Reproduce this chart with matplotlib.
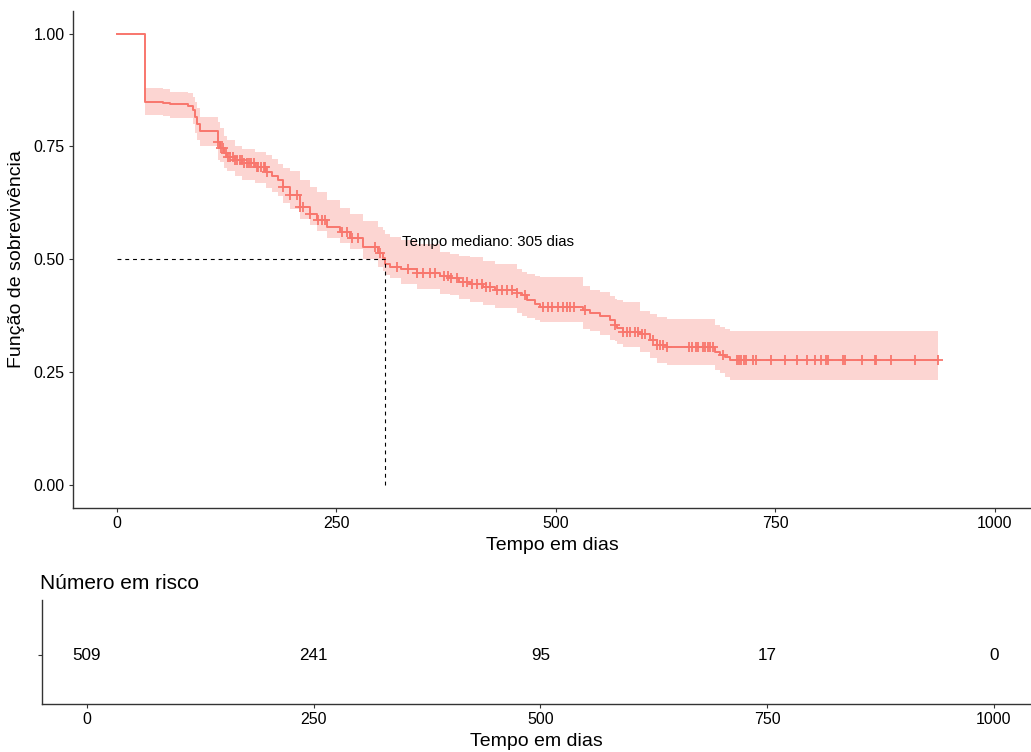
import numpy as np
import matplotlib.pyplot as plt

plt.rcParams['font.family'] = ['Liberation Sans', 'DejaVu Sans']

# Curva de Kaplan-Meier (tempo em dias)
tempo = [0, 32, 52, 61, 81, 87, 89, 91, 95, 115, 117, 122, 125, 134, 143, 157, 170, 177,
         183, 189, 197, 209, 220, 228, 239, 254, 265, 280, 297, 303, 305, 311, 323, 342,
         368, 379, 390, 402, 417, 431, 456, 461, 467, 476, 482, 531, 539, 550, 562, 567,
         570, 576, 596, 607, 615, 627, 681, 687, 693, 698]
sobrev = [1.0, 0.849, 0.847, 0.843, 0.840, 0.830, 0.815, 0.800, 0.785, 0.760, 0.747, 0.735,
          0.727, 0.720, 0.714, 0.705, 0.694, 0.685, 0.676, 0.660, 0.643, 0.616, 0.600, 0.588,
          0.572, 0.561, 0.548, 0.528, 0.514, 0.503, 0.490, 0.483, 0.479, 0.470, 0.462, 0.459,
          0.450, 0.445, 0.439, 0.432, 0.426, 0.420, 0.410, 0.400, 0.395, 0.388, 0.381, 0.375,
          0.366, 0.355, 0.348, 0.339, 0.334, 0.322, 0.310, 0.306, 0.295, 0.288, 0.283, 0.277]
ic_sup = [1.0, 0.880, 0.878, 0.871, 0.869, 0.860, 0.848, 0.835, 0.816, 0.803, 0.790, 0.772,
          0.765, 0.750, 0.745, 0.738, 0.730, 0.722, 0.710, 0.703, 0.695, 0.675, 0.660, 0.648,
          0.632, 0.613, 0.600, 0.585, 0.572, 0.565, 0.555, 0.550, 0.542, 0.533, 0.516, 0.512,
          0.508, 0.505, 0.497, 0.490, 0.478, 0.472, 0.468, 0.464, 0.461, 0.440, 0.433, 0.428,
          0.418, 0.412, 0.410, 0.405, 0.385, 0.378, 0.372, 0.368, 0.355, 0.350, 0.345, 0.341]
ic_inf = [1.0, 0.820, 0.818, 0.814, 0.812, 0.800, 0.780, 0.765, 0.750, 0.720, 0.715, 0.703,
          0.695, 0.685, 0.675, 0.668, 0.658, 0.650, 0.640, 0.625, 0.612, 0.590, 0.575, 0.562,
          0.548, 0.535, 0.522, 0.500, 0.482, 0.475, 0.465, 0.458, 0.445, 0.435, 0.424, 0.420,
          0.412, 0.405, 0.398, 0.392, 0.380, 0.375, 0.370, 0.365, 0.360, 0.345, 0.340, 0.332,
          0.322, 0.318, 0.312, 0.305, 0.295, 0.282, 0.270, 0.265, 0.255, 0.248, 0.240, 0.233]

# tempos censurados (marcas +)
censura = [115, 119, 121, 124, 127, 129, 132, 135, 137, 140, 142, 145, 148, 150, 153, 156,
           159, 161, 164, 167, 169, 171, 189, 197, 205, 209, 212, 220, 229, 233, 237, 256,
           262, 268, 274, 294, 300, 319, 331, 342, 349, 356, 362, 373, 377, 381, 387, 394,
           399, 404, 410, 416, 420, 425, 433, 439, 444, 450, 456, 465, 485, 491, 496, 502,
           508, 513, 516, 521, 533, 567, 576, 581, 584, 590, 593, 598, 601, 610, 615, 618,
           622, 627, 651, 655, 659, 662, 667, 670, 673, 676, 679, 690, 706, 709, 711, 714,
           717, 724, 728, 745, 761, 775, 786, 795, 802, 808, 810, 827, 829, 848, 863, 865,
           881, 909, 935]

mediana = 305
risco_tempo = [0, 250, 500, 750, 1000]
risco_n = [509, 241, 95, 17, 0]

cor = '#F8766D'
eixo = '#333333'

fig = plt.figure(figsize=(10.31, 7.52), dpi=100)

# ===== Curva de sobrevivencia =====
ax = fig.add_axes([73/1031, 1 - 508/752, (1031 - 73)/1031, (508 - 11)/752])

t_fim = max(censura)
t = np.array(tempo + [t_fim])
s = np.array(sobrev + [sobrev[-1]])
sup = np.array(ic_sup + [ic_sup[-1]])
inf = np.array(ic_inf + [ic_inf[-1]])

ax.fill_between(t, inf, sup, step='post', color=cor, alpha=0.3, lw=0)
ax.step(t, s, where='post', color=cor, lw=1.4)

idx = np.searchsorted(tempo, censura, side='right') - 1
ax.plot(censura, np.array(sobrev)[idx], ls='none', marker='+', ms=7.5,
        mew=1.3, color=cor)

ax.plot([0, mediana], [0.5, 0.5], color='black', lw=0.8, dashes=(3.5, 3.5))
ax.plot([mediana, mediana], [0, 0.5], color='black', lw=0.8, dashes=(3.5, 3.5))
ax.text(325, 0.539, f'Tempo mediano: {mediana} dias', fontsize=10.8,
        ha='left', va='center', color='black')

ax.set_xlim(-50, 1041)
ax.set_ylim(-0.051, 1.05)
ax.set_xticks([0, 250, 500, 750, 1000])
ax.set_yticks([0, 0.25, 0.5, 0.75, 1.0])
ax.set_yticklabels(['0.00', '0.25', '0.50', '0.75', '1.00'])
ax.set_xlabel('Tempo em dias', fontsize=14, labelpad=4)
ax.set_ylabel('Função de sobrevivência', fontsize=14, labelpad=6)
for lado in ['top', 'right']:
    ax.spines[lado].set_visible(False)
for lado in ['left', 'bottom']:
    ax.spines[lado].set_color(eixo)
    ax.spines[lado].set_linewidth(1.0)
ax.tick_params(labelsize=11.5, length=3, color=eixo, labelcolor='black', pad=3)

# ===== Tabela de numero em risco =====
ax2 = fig.add_axes([41.6/1031, 1 - 704/752, (1031 - 41.6)/1031, 104/752])
for x, n in zip(risco_tempo, risco_n):
    ax2.text(x, 0.47, str(n), fontsize=12.3, ha='center', va='center')
ax2.set_xlim(-50, 1041)
ax2.set_ylim(0, 1)
ax2.set_xticks(risco_tempo)
ax2.set_yticks([0.47])
ax2.set_yticklabels([''])
ax2.set_xlabel('Tempo em dias', fontsize=14, labelpad=4)
ax2.set_title('Número em risco', fontsize=15, loc='left', x=-0.002, pad=8)
for lado in ['top', 'right']:
    ax2.spines[lado].set_visible(False)
for lado in ['left', 'bottom']:
    ax2.spines[lado].set_color(eixo)
    ax2.spines[lado].set_linewidth(1.0)
ax2.tick_params(labelsize=11.5, length=3, color=eixo, labelcolor='black', pad=3)

plt.savefig('out.png', dpi=100)
